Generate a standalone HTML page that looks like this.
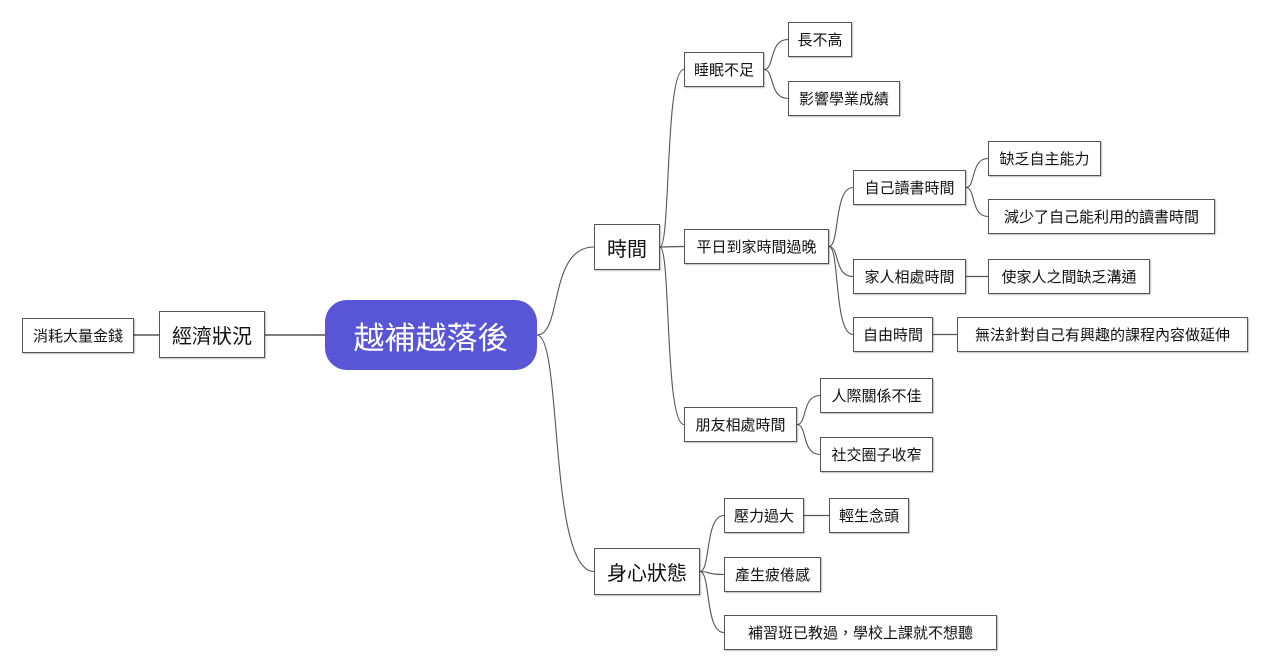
<!DOCTYPE html>
<html><head><meta charset="utf-8"><style>
body{margin:0;width:1270px;height:672px;background:#fff;position:relative;overflow:hidden;font-family:"Liberation Sans","Noto Sans CJK TC",sans-serif}
.n{position:absolute;box-sizing:border-box;border:1px solid #555;background:#fff;display:flex;align-items:center;justify-content:center;font-size:15px;color:#111;box-shadow:1px 1px 1px rgba(0,0,0,.25);white-space:nowrap}
.b{font-size:20px}
.c{background:#5856d6;color:#fff;border:none;border-radius:22px;font-size:31px;box-shadow:none}
svg{position:absolute;left:0;top:0}
</style></head><body>
<svg width="1270" height="672" id="s"></svg>
<div id="w"></div>
<script>
var N={
a:[22,318,112,35,'消耗大量金錢',''],
b:[159,311,106,47,'經濟狀況','b'],
c:[325,300,212,70,'越補越落後','c'],
t:[594,224,66,46,'時間','b'],
h:[594,548,106,47,'身心狀態','b'],
s1:[684,52,80,35,'睡眠不足',''],
s2:[788,22,64,35,'長不高',''],
s3:[788,81,112,35,'影響學業成績',''],
p:[684,229,145,35,'平日到家時間過晚',''],
p1:[853,170,113,35,'自己讀書時間',''],
p11:[988,141,113,35,'缺乏自主能力',''],
p12:[988,199,227,35,'減少了自己能利用的讀書時間',''],
p2:[853,259,113,35,'家人相處時間',''],
p21:[988,259,162,35,'使家人之間缺乏溝通',''],
p3:[853,317,80,35,'自由時間',''],
p31:[957,317,291,35,'無法針對自己有興趣的課程內容做延伸',''],
f:[684,407,113,35,'朋友相處時間',''],
f1:[820,378,113,35,'人際關係不佳',''],
f2:[820,437,113,35,'社交圈子收窄',''],
h1:[724,498,80,35,'壓力過大',''],
h11:[829,498,80,35,'輕生念頭',''],
h2:[724,557,97,35,'產生疲倦感',''],
h3:[724,615,273,35,'補習班已教過，學校上課就不想聽','']
};
var E=[['c','t'],['c','h'],['t','s1'],['t','p'],['t','f'],['s1','s2'],['s1','s3'],['p','p1'],['p','p2'],['p','p3'],['p1','p11'],['p1','p12'],['p2','p21'],['p3','p31'],['f','f1'],['f','f2'],['h','h1'],['h','h2'],['h','h3'],['h1','h11']];
var w=document.getElementById('w'),s=document.getElementById('s'),h='';
for(var k in N){var v=N[k];h+='<div class="n '+v[5]+'" style="left:'+v[0]+'px;top:'+v[1]+'px;width:'+v[2]+'px;height:'+v[3]+'px">'+v[4]+'</div>';}
w.innerHTML=h;
var p='<line x1="134" y1="335" x2="159" y2="335" stroke="#555" stroke-width="1.5"/><line x1="265" y1="335" x2="325" y2="335" stroke="#555" stroke-width="1.5"/>';
E.forEach(function(e){var A=N[e[0]],B=N[e[1]];var x1=A[0]+A[2],y1=A[1]+A[3]/2,x2=B[0],y2=B[1]+B[3]/2;var dx=x2-x1;
if(Math.abs(y2-y1)<2)p+='<line x1="'+x1+'" y1="'+y1+'" x2="'+x2+'" y2="'+y2+'" stroke="#555" stroke-width="1.3"/>';
else p+='<path d="M'+x1+' '+y1+' C'+(x1+dx*0.45)+' '+y1+' '+(x1+dx*0.2)+' '+y2+' '+x2+' '+y2+'" fill="none" stroke="#555" stroke-width="1.1"/>';});
s.innerHTML=p;
</script>
</body></html>
